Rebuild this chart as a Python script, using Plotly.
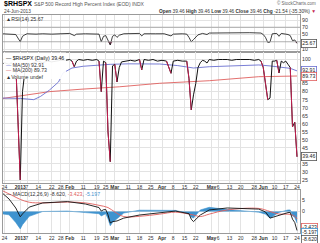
import plotly.graph_objects as go

W, H = 320, 243
def px(x): return x / W
def py(y): return 1 - y / H

FONT = "Liberation Sans, Arial, sans-serif"

# ---------------- data ----------------
close_dates = ["2012-12-21","2012-12-24","2012-12-26","2012-12-27","2012-12-28","2012-12-31",
               "2013-01-02","2013-01-03","2013-01-04","2013-01-07","2013-01-08","2013-01-10",
               "2013-01-14","2013-01-16","2013-01-18","2013-01-22","2013-01-24","2013-01-28",
               "2013-01-30","2013-02-01","2013-02-04","2013-02-05","2013-02-06","2013-02-07",
               "2013-02-11","2013-02-13","2013-02-15","2013-02-19","2013-02-20","2013-02-21",
               "2013-02-22","2013-02-25","2013-02-26","2013-02-27","2013-02-28","2013-03-01",
               "2013-03-04","2013-03-05","2013-03-06","2013-03-08","2013-03-12","2013-03-14",
               "2013-03-18","2013-03-19","2013-03-20","2013-03-22","2013-03-26","2013-03-28",
               "2013-04-01","2013-04-03","2013-04-05","2013-04-08","2013-04-10","2013-04-12",
               "2013-04-16","2013-04-17","2013-04-18","2013-04-19","2013-04-22","2013-04-23",
               "2013-04-24","2013-04-25","2013-04-26","2013-04-29","2013-04-30","2013-05-02",
               "2013-05-06","2013-05-08","2013-05-10","2013-05-14","2013-05-16","2013-05-20",
               "2013-05-22","2013-05-24","2013-05-28","2013-05-30","2013-05-31","2013-06-03",
               "2013-06-04","2013-06-05","2013-06-06","2013-06-07","2013-06-10","2013-06-11",
               "2013-06-12","2013-06-13","2013-06-14","2013-06-17","2013-06-18","2013-06-19",
               "2013-06-20","2013-06-21","2013-06-24"]
close_vals = [97, 98, 97, 98, 96, 98,
              25, 80, 92, 96, 97, 98,
              99, 98, 99, 98.5, 99, 99.5,
              99.5, 100, 99, 95.5, 99, 100,
              99.5, 100, 99.5, 100, 99, 80,
              99, 98, 55, 36.4, 96, 97,
              86, 95, 98.5, 99, 99.5, 99,
              100, 93.5, 100, 99.5, 100, 99,
              99.5, 99, 91.4, 99, 99.5, 99,
              99, 88, 68.6, 78, 85, 95,
              98, 99.5, 99, 97.8, 100, 99.5,
              100, 100, 100, 99.5, 100, 100,
              100, 100, 99.5, 100, 99, 95,
              85, 75, 76, 99, 99, 99.5,
              91.6, 99, 98, 99, 97, 95,
              58, 61, 39.46]

ma50_dates = ["2012-12-21","2013-01-02","2013-01-10","2013-01-15","2013-01-21","2013-01-25",
              "2013-01-29","2013-02-04","2013-02-11","2013-02-19","2013-02-27","2013-03-11",
              "2013-03-29","2013-04-10","2013-04-19","2013-04-30","2013-05-15","2013-05-30",
              "2013-06-06","2013-06-12","2013-06-19","2013-06-24"]
ma50_vals = [76, 75.8, 75, 77, 81, 86,
             91.6, 94.7, 95.8, 96.6, 97, 97.3,
             97.2, 96.2, 94.7, 95.5, 96.2, 96.6,
             96, 95.5, 94.5, 92.91]

ma200_dates = ["2012-12-21","2013-01-07","2013-01-21","2013-02-08","2013-03-05","2013-03-29",
               "2013-04-30","2013-05-30","2013-06-24"]
ma200_vals = [75.7, 78, 80, 81.5, 83, 85.2, 86.8, 89.3, 89.73]

rsi_dates = ["2012-12-21","2012-12-27","2012-12-31","2013-01-02","2013-01-03","2013-01-04",
             "2013-01-07","2013-01-11","2013-01-16","2013-01-22","2013-01-28","2013-02-01",
             "2013-02-05","2013-02-06","2013-02-12","2013-02-19","2013-02-20","2013-02-21",
             "2013-02-22","2013-02-25","2013-02-26","2013-02-27","2013-02-28","2013-03-01",
             "2013-03-04","2013-03-05","2013-03-07","2013-03-13","2013-03-18","2013-03-19",
             "2013-03-20","2013-03-27","2013-04-02","2013-04-05","2013-04-08","2013-04-12",
             "2013-04-16","2013-04-17","2013-04-18","2013-04-19","2013-04-22","2013-04-23",
             "2013-04-25","2013-04-29","2013-04-30","2013-05-08","2013-05-17","2013-05-24",
             "2013-05-31","2013-06-03","2013-06-04","2013-06-05","2013-06-06","2013-06-07",
             "2013-06-11","2013-06-12","2013-06-13","2013-06-17","2013-06-18","2013-06-19",
             "2013-06-20","2013-06-21","2013-06-24"]
rsi_vals = [52, 51.5, 50, 30, 45, 49,
            52, 51, 52, 51, 52, 53,
            47, 51, 52, 52, 51, 30,
            45, 47, 35, 21, 45, 49,
            42, 48, 52, 52, 53, 46,
            52, 52, 52, 46, 51, 52,
            51, 42, 30, 36, 42, 49,
            53, 50, 54, 55, 55, 55,
            54, 50, 42, 28, 29, 52,
            53, 45, 53, 52, 50, 47,
            33, 35, 25.67]

macd_dates = ["2012-12-21","2012-12-26","2012-12-31","2013-01-02","2013-01-03","2013-01-08",
              "2013-01-16","2013-01-23","2013-01-31","2013-02-12","2013-02-20","2013-02-21",
              "2013-02-22","2013-02-25","2013-02-26","2013-02-27","2013-02-28","2013-03-04",
              "2013-03-07","2013-03-18","2013-03-29","2013-04-09","2013-04-17","2013-04-18",
              "2013-04-19","2013-04-24","2013-04-30","2013-05-10","2013-05-30","2013-06-04",
              "2013-06-06","2013-06-12","2013-06-18","2013-06-19","2013-06-20","2013-06-21",
              "2013-06-24"]
macd_vals = [8.4, 5.7, 1.6, -2.4, -1.1, 2,
             3.9, 4.3, 4.5, 3.4, 1.8, 0.2,
             0.8, 0.9, -1.5, -5.2, -4.6, -4.3,
             -3, -1.6, -0.7, 0.2, -1, -3.5,
             -4.6, -1.6, 0.7, 1.6, 1.1, -0.2,
             -3, -1.6, -0.5, -0.4, -3.5, -5,
             -8.62]

signal_dates = ["2012-12-21","2012-12-28","2013-01-02","2013-01-08","2013-01-16","2013-01-31",
                "2013-02-12","2013-02-20","2013-02-26","2013-03-01","2013-03-07","2013-03-18",
                "2013-03-29","2013-04-09","2013-04-19","2013-04-24","2013-04-30","2013-05-10",
                "2013-05-30","2013-06-06","2013-06-12","2013-06-18","2013-06-21","2013-06-24"]
signal_vals = [9.5, 7, 5.5, 4.2, 3.9, 4.3,
               3.9, 2.8, 1.8, -0.2, -2.3, -2.2,
               -1.2, -0.3, -1.6, -2.3, -1.2, 0.7,
               1.4, 0, -1.2, -1.2, -2.1, -3.423]

hist_dates = ["2012-12-21","2012-12-26","2012-12-31","2013-01-02","2013-01-03","2013-01-08",
              "2013-01-16","2013-01-31","2013-02-12","2013-02-20","2013-02-21","2013-02-25",
              "2013-02-26","2013-02-27","2013-02-28","2013-03-04","2013-03-07","2013-03-18",
              "2013-03-29","2013-04-09","2013-04-17","2013-04-18","2013-04-19","2013-04-24",
              "2013-04-30","2013-05-10","2013-05-30","2013-06-04","2013-06-06","2013-06-12",
              "2013-06-18","2013-06-19","2013-06-20","2013-06-21","2013-06-24"]
hist_vals = [-1.1, -1.5, -5, -7.9, -6, -2.2,
             0, 0.2, -0.5, -1, -2, -1,
             -3.3, -6.5, -5, -3.2, -0.7, 0.6,
             0.5, 0.5, -1, -2.5, -3, 0.7,
             1.9, 0.9, -0.3, -1.2, -3, -0.4,
             0.7, 0.7, -1.9, -2.7, -5.197]

tick_dates = ["2012-12-24","2013-01-02","2013-01-07","2013-01-14","2013-01-22","2013-01-28",
              "2013-02-01","2013-02-11","2013-02-19","2013-02-25","2013-03-01","2013-03-11",
              "2013-03-18","2013-03-25","2013-04-01","2013-04-08","2013-04-15","2013-04-22",
              "2013-05-01","2013-05-06","2013-05-13","2013-05-20","2013-05-28","2013-06-03",
              "2013-06-10","2013-06-17","2013-06-24"]
tick_text = ["24","<b>2013</b>","7","14","22","28","<b>Feb</b>","11","19","25","<b>Mar</b>","11",
             "18","25","<b>Apr</b>","8","15","22","<b>May</b>","6","13","20","28","<b>Jun</b>",
             "10","17","24"]

rsi_ticks = [10, 50, 70, 90]
main_ticks = [25, 30, 35, 45, 50, 55, 60, 65, 70, 75, 80, 85, 100]
macd_ticks = [0, 5]
RSI_OVERSOLD = 30

# ---------------- colours ----------------
BLACK = "#111111"
DOWN = "#c41d4f"
BLUE = "#6a6fd0"
RED = "#e0605e"
HIST = "#3f93cf"
GRID = "#e3e3e3"
BORDER = "#9a9a9a"

# ---------------- layout geometry ----------------
L, R = 3, 300
RSI_T, RSI_B = 15, 52
MAIN_T, MAIN_B = 52, 182.5
MACD_T, MACD_B = 190, 233

fig = go.Figure()

# RSI oversold fill (below 30) and RSI line
fig.add_trace(go.Scatter(x=rsi_dates, y=[RSI_OVERSOLD] * len(rsi_dates), mode="lines",
                         xaxis="x", yaxis="y", line=dict(width=0), hoverinfo="skip"))
fig.add_trace(go.Scatter(x=rsi_dates, y=[min(v, RSI_OVERSOLD) for v in rsi_vals], mode="lines",
                         xaxis="x", yaxis="y", line=dict(width=0), fill="tonexty",
                         fillcolor="rgba(160,40,90,0.75)", hoverinfo="skip"))
fig.add_trace(go.Scatter(x=rsi_dates, y=rsi_vals, mode="lines", xaxis="x", yaxis="y",
                         line=dict(color=BLACK, width=0.8)))

# Main panel
fig.add_trace(go.Scatter(x=ma200_dates, y=ma200_vals, mode="lines", xaxis="x2", yaxis="y2",
                         line=dict(color=RED, width=0.9)))
fig.add_trace(go.Scatter(x=ma50_dates, y=ma50_vals, mode="lines", xaxis="x2", yaxis="y2",
                         line=dict(color=BLUE, width=0.9)))
fig.add_trace(go.Scatter(x=close_dates, y=close_vals, mode="lines", xaxis="x2", yaxis="y2",
                         line=dict(color=BLACK, width=1)))
dx, dy = [], []
for i in range(1, len(close_vals)):
    if close_vals[i] < close_vals[i - 1] - 2:
        dx += [close_dates[i - 1], close_dates[i], None]
        dy += [close_vals[i - 1], close_vals[i], None]
fig.add_trace(go.Scatter(x=dx, y=dy, mode="lines", xaxis="x2", yaxis="y2",
                         line=dict(color=DOWN, width=1), connectgaps=False))

# MACD
fig.add_trace(go.Scatter(x=hist_dates, y=hist_vals, mode="lines", xaxis="x3", yaxis="y3",
                         fill="tozeroy", fillcolor=HIST, line=dict(color=HIST, width=0.6)))
fig.add_trace(go.Scatter(x=signal_dates, y=signal_vals, mode="lines", xaxis="x3", yaxis="y3",
                         line=dict(color=RED, width=0.9), line_shape="spline"))
fig.add_trace(go.Scatter(x=macd_dates, y=macd_vals, mode="lines", xaxis="x3", yaxis="y3",
                         line=dict(color=BLACK, width=0.9)))

xrange = ["2012-12-21 08:00", "2013-06-25 08:00"]
xcommon = dict(domain=[px(L), px(R)], range=xrange, type="date",
               rangebreaks=[dict(bounds=["sat", "mon"])],
               tickmode="array", tickvals=tick_dates, ticktext=tick_text, tickangle=0,
               showgrid=True, gridcolor=GRID, gridwidth=0.6, zeroline=False,
               showline=True, mirror=True, linecolor=BORDER, linewidth=0.8,
               ticks="", ticklen=0, tickfont=dict(size=5, color="#333", family=FONT))
ycommon = dict(side="right", showgrid=True, gridcolor=GRID, gridwidth=0.6, zeroline=False,
               showline=True, mirror=True, linecolor=BORDER, linewidth=0.8, ticks="",
               tickfont=dict(size=5.3, color="#333", family=FONT), tickmode="array")

rsi_scale = 0.3625
main_scale = 1.607
macd_scale = 2.2

fig.update_layout(
    width=W, height=H, margin=dict(l=0, r=0, t=0, b=0),
    paper_bgcolor="white", plot_bgcolor="white", showlegend=False,
    font=dict(family=FONT, size=6, color="#222"),
    xaxis=dict(xcommon, anchor="y", showticklabels=False),
    xaxis2=dict(xcommon, anchor="y2", matches="x", showticklabels=True),
    xaxis3=dict(xcommon, anchor="y3", matches="x", showticklabels=True),
    yaxis=dict(ycommon, anchor="x", domain=[py(RSI_B), py(RSI_T)],
               range=[90 - (RSI_B - 20) / rsi_scale, 90 + (20 - RSI_T) / rsi_scale],
               tickvals=rsi_ticks),
    yaxis2=dict(ycommon, anchor="x2", domain=[py(MAIN_B), py(MAIN_T)],
                range=[25 - (MAIN_B - 180) / main_scale, 100 + (59.5 - MAIN_T) / main_scale],
                tickvals=main_ticks),
    yaxis3=dict(ycommon, anchor="x3", domain=[py(MACD_B), py(MACD_T)],
                range=[-(MACD_B - 211.5) / macd_scale, (211.5 - MACD_T) / macd_scale],
                tickvals=macd_ticks),
)

# RSI reference lines 70 / 30
for v in (70, 30):
    fig.add_shape(type="line", xref="x domain", yref="y", x0=0, x1=1, y0=v, y1=v,
                  line=dict(color="#9a9a9a", width=0.8))

# legend background box in main panel
fig.add_shape(type="rect", xref="paper", yref="paper", x0=px(3.5), x1=px(66), y0=py(79), y1=py(52.6),
              fillcolor="rgba(255,255,255,0.92)", line=dict(width=0), layer="above")

ann = []
def text(x, y, s, size=5.5, color="#222", anchor="left", yanchor="middle"):
    ann.append(dict(x=px(x), y=py(y), xref="paper", yref="paper", text=s, showarrow=False,
                    xanchor=anchor, yanchor=yanchor, font=dict(size=size, color=color, family=FONT)))

# header
text(2, 4.5, "<b>$RHSPX</b> <span style='font-size:5px;color:#555'>S&P 500 Record High Percent Index (EOD) INDX</span>",
     size=7, color="#000")
text(318, 3, "© StockCharts.com", size=4.5, color="#666", anchor="right")
text(2, 11, "24-Jun-2013", size=4.8, color="#444")
text(318, 11, "<b>Open</b> 39.46 <b>High</b> 39.46 <b>Low</b> 39.46 <b>Close</b> 39.46 "
     "<b>Chg</b> -21.54 (-35.30%) <span style='color:#c41d4f'>▼</span>", size=4.8, color="#333", anchor="right")

# RSI legend
text(4, 19, "▲RSI(14) 25.67", size=5.2, color="#333")

# main legend
text(4, 58.5, "— $RHSPX (Daily) 39.46", size=5.2, color="#111")
text(4, 64.5, "<span style='color:%s'>—</span> MA(50) 92.91" % BLUE, size=5.2, color="#333")
text(4, 70.5, "<span style='color:%s'>—</span> MA(200) 89.73" % RED, size=5.2, color="#333")
text(4, 76.5, "▲Volume undef", size=5.2, color="#333")

# MACD legend
text(4, 193.5, "— MACD(12,26,9) -8.620, <span style='color:%s'>-3.423</span>, "
     "<span style='color:%s'>-5.197</span>" % (RED, HIST), size=5.2, color="#333")

fig.update_layout(annotations=ann)

# value boxes on the right axis
def vbox(yref, yval, s, border):
    fig.add_annotation(x=px(301), xref="paper", y=yval, yref=yref, text=s, showarrow=False,
                       xanchor="left", yanchor="middle", bgcolor="white", bordercolor=border,
                       borderwidth=0.8, borderpad=0.5, font=dict(size=5.2, color="#222", family=FONT))

def vbox_px(ypix, s, border):
    fig.add_annotation(x=px(301), xref="paper", y=py(ypix), yref="paper", text=s, showarrow=False,
                       xanchor="left", yanchor="middle", bgcolor="white", bordercolor=border,
                       borderwidth=0.8, borderpad=0.5, font=dict(size=5.2, color="#222", family=FONT))

vbox("y", 25.67, "25.67", "#555")
vbox("y2", 92.91, "92.91", BLUE)
vbox("y2", 89.73, "89.73", RED)
vbox("y2", 39.46, "39.46", "#555")
vbox_px(227.7, "-3.423", RED)
vbox_px(232.2, "-5.197", HIST)
vbox_px(239, "-8.620", "#555")

fig.write_html("out.html")
